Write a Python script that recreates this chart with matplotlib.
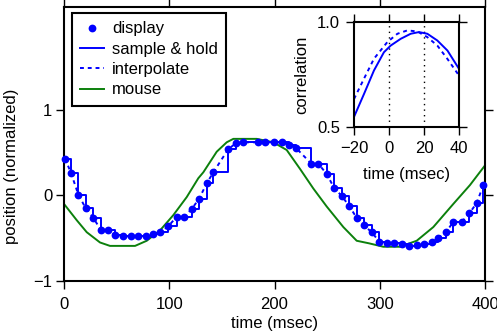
import numpy as np
import matplotlib
matplotlib.use("Agg")
import matplotlib.pyplot as plt

plt.rcParams['font.family'] = ['Liberation Sans', 'DejaVu Sans']
plt.rcParams['font.size'] = 12

# ------------------------------
# data
# ------------------------------
# display samples (time msec, normalized position)
disp_t = [1.0, 6.7, 13.6, 20.6, 27.8, 35.2, 42.1, 48.5, 56.3, 63.4, 70.6, 77.9,
          84.8, 91.2, 99.1, 107.1, 114.0, 121.3, 128.3, 135.6, 141.9, 156.1,
          163.4, 170.4, 184.6, 191.4, 199.5, 206.8, 214.1, 220.7, 235.0, 241.6,
          249.6, 256.5, 264.1, 270.7, 278.0, 285.0, 292.3, 299.6, 306.6, 313.5,
          320.9, 328.1, 335.1, 342.0, 349.4, 355.6, 362.9, 369.9, 377.9, 385.1,
          392.1, 398.4]
disp_v = [0.43, 0.26, 0.01, -0.15, -0.26, -0.41, -0.41, -0.46, -0.48, -0.48,
          -0.48, -0.47, -0.45, -0.43, -0.36, -0.25, -0.25, -0.16, -0.04, 0.14,
          0.27, 0.54, 0.61, 0.62, 0.62, 0.62, 0.62, 0.62, 0.59, 0.55, 0.37,
          0.37, 0.25, 0.09, -0.01, -0.12, -0.26, -0.35, -0.43, -0.54, -0.56,
          -0.56, -0.57, -0.59, -0.58, -0.57, -0.54, -0.50, -0.43, -0.31, -0.31,
          -0.21, -0.09, 0.12]

# mouse trace
mouse_t = [0, 12.1, 21.6, 34.2, 43.7, 53.2, 67.5, 78.6, 91.2, 103.9, 116.6,
           127.6, 132.4, 145.1, 154.6, 160.9, 183.1, 198.9, 211.6, 224.2, 236.9,
           249.6, 265.4, 278.1, 289.8, 303.4, 319.2, 335.1, 350.9, 369.9, 385.7,
           400.0]
mouse_v = [-0.10, -0.29, -0.43, -0.55, -0.59, -0.59, -0.59, -0.53, -0.41, -0.23,
           -0.02, 0.20, 0.27, 0.51, 0.62, 0.66, 0.66, 0.62, 0.53, 0.31, 0.08,
           -0.13, -0.37, -0.53, -0.56, -0.60, -0.60, -0.53, -0.37, -0.10, 0.12,
           0.35]

# inset: correlation vs lag
hold_lag = [-20, -14.3, -8.6, -2.9, 1.0, 6.7, 12.4, 17.1, 21.9, 27.6, 33.4, 40]
hold_corr = [0.548, 0.657, 0.769, 0.856, 0.888, 0.920, 0.944, 0.952, 0.944,
             0.912, 0.864, 0.777]
interp_lag = [-20, -14.3, -8.6, -1.0, 4.8, 10.5, 16.2, 21.9, 27.6, 33.4, 40]
interp_corr = [0.633, 0.730, 0.825, 0.904, 0.944, 0.960, 0.955, 0.928, 0.888,
               0.824, 0.745]

blue = '#0000ff'
green = '#0c800c'

fig = plt.figure(figsize=(4.97, 3.36), dpi=100)

# ------------------------------
# main axes
# ------------------------------
ax = fig.add_axes([64/497, 1 - 281/336, 421/497, 274/336])
ax.plot(disp_t, disp_v, drawstyle='steps-post', color=blue, lw=1.4,
        label='sample & hold', zorder=3)
ax.plot(disp_t, disp_v, color=blue, lw=1.4, dashes=(2, 2),
        label='interpolate', zorder=3)
ax.plot(mouse_t, mouse_v, color=green, lw=1.4, label='mouse', zorder=2)
ax.plot(disp_t, disp_v, 'o', color=blue, ms=5.6, mew=0, label='display',
        zorder=4, clip_on=False)

ax.set_xlim(0, 400)
ax.set_ylim(-1, 2.2)
ax.set_xticks([0, 100, 200, 300, 400])
ax.set_yticks([-1, 0, 1])
ax.tick_params(direction='out', length=5.5, width=1, top=True, right=True,
               labelsize=12, pad=3)
ax.tick_params(axis='x', pad=6)
for s in ax.spines.values():
    s.set_linewidth(1.5)
ax.set_xlabel('time (msec)', fontsize=12, labelpad=3)
ax.set_ylabel('position (normalized)', fontsize=12)
ax.yaxis.set_label_coords(-0.108, 0.42)

h, l = ax.get_legend_handles_labels()
order = [3, 0, 1, 2]
leg = ax.legend([h[i] for i in order], [l[i] for i in order],
                loc='upper left', bbox_to_anchor=(0.019, 0.978),
                borderaxespad=0, fancybox=False, framealpha=1,
                edgecolor='black', handlelength=1.45, handletextpad=0.45,
                borderpad=0.5, labelspacing=0.32, fontsize=12)
leg.get_frame().set_linewidth(1.5)

# ------------------------------
# inset
# ------------------------------
ins = fig.add_axes([354/497, 1 - 127/336, 105/497, 105/336])
ins.axvline(0, color='black', ls=(0, (1, 3)), lw=1)
ins.axvline(20, color='black', ls=(0, (1, 3)), lw=1)
ins.plot(hold_lag, hold_corr, color=blue, lw=1.4)
ins.plot(interp_lag, interp_corr, color=blue, lw=1.4, dashes=(2, 2))
ins.set_xlim(-20, 40)
ins.set_ylim(0.5, 1.0)
ins.set_xticks([-20, 0, 20, 40])
ins.set_yticks([0.5, 1.0])
ins.set_yticklabels(['0.5', '1.0'])
ins.tick_params(direction='out', length=6, width=1, top=True, right=True,
                labelsize=12, pad=4)
for s in ins.spines.values():
    s.set_linewidth(1.5)
ins.set_xlabel('time (msec)', fontsize=12, labelpad=8)
ins.set_ylabel('correlation', fontsize=12, labelpad=6)

fig.savefig('out.png', dpi=100)
